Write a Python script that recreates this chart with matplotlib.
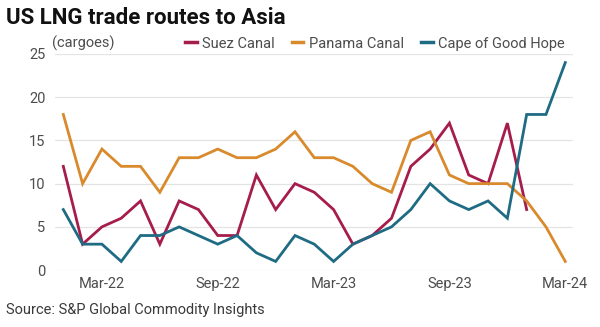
import matplotlib
matplotlib.use("Agg")
import matplotlib.pyplot as plt
import numpy as np

plt.rcParams['font.family'] = ['Roboto', 'DejaVu Sans']

months = ["Jan-22", "Feb-22", "Mar-22", "Apr-22", "May-22", "Jun-22", "Jul-22",
          "Aug-22", "Sep-22", "Oct-22", "Nov-22", "Dec-22", "Jan-23", "Feb-23",
          "Mar-23", "Apr-23", "May-23", "Jun-23", "Jul-23", "Aug-23", "Sep-23",
          "Oct-23", "Nov-23", "Dec-23", "Jan-24", "Feb-24", "Mar-24"]

suez = [12, 3, 5, 6, 8, 3, 8, 7, 4, 4, 11, 7, 10, 9, 7, 3, 4, 6, 12, 14, 17,
        11, 10, 17, 7, None, None]
panama = [18, 10, 14, 12, 12, 9, 13, 13, 14, 13, 13, 14, 16, 13, 13, 12, 10, 9,
          15, 16, 11, 10, 10, 10, 8, 5, 1]
cape = [7, 3, 3, 1, 4, 4, 5, 4, 3, 4, 2, 1, 4, 3, 1, 3, 4, 5, 7, 10, 8, 7, 8, 6,
        18, 18, 24]

tick_labels = ["Mar-22", "Sep-22", "Mar-23", "Sep-23", "Mar-24"]

series = [("Suez Canal", suez, "#a51c4d"),
          ("Panama Canal", panama, "#d88a2c"),
          ("Cape of Good Hope", cape, "#1f6b84")]

text_grey = '#4d4d4d'

fig = plt.figure(figsize=(6.0, 3.27), dpi=100)
ax = fig.add_axes([0.092, 0.174, 0.863, 0.661])

x = np.arange(len(months))
for name, vals, color in series:
    y = np.array([np.nan if v is None else v for v in vals], dtype=float)
    ax.plot(x, y, color=color, lw=2.0, label=name, solid_joinstyle='miter',
            clip_on=False, zorder=3)

ax.set_ylim(0, 25)
ax.set_xlim(-0.42, len(months) - 1 + 0.4)
ax.set_yticks(range(0, 26, 5))
ax.set_xticks([months.index(m) for m in tick_labels])
ax.set_xticklabels(tick_labels)
ax.grid(axis='y', color='#e4e4e4', lw=0.9, zorder=0)
ax.set_axisbelow(True)
for s in ax.spines.values():
    s.set_visible(False)
ax.tick_params(length=0, labelsize=10.5, colors=text_grey, pad=5)
ax.tick_params(axis='y', pad=7)

fig.text(0.01, 0.945, "US LNG trade routes to Asia", fontsize=16,
         fontweight='bold', color='#111111', va='center', ha='left')
fig.text(0.087, 0.868, "(cargoes)", fontsize=10.5, color=text_grey,
         va='center', ha='left')

leg = ax.legend(loc='center right', bbox_to_anchor=(0.995, 1.048), ncol=3,
                frameon=False, fontsize=10.5, handlelength=0.8,
                handletextpad=0.35, columnspacing=1.2, borderaxespad=0)
for txt in leg.get_texts():
    txt.set_color(text_grey)
for line in leg.get_lines():
    line.set_linewidth(2.5)

fig.text(0.01, 0.052, "Source: S&P Global Commodity Insights", fontsize=10.5,
         color='#3a3a3a', va='center', ha='left')

fig.savefig("out.png", dpi=100)
